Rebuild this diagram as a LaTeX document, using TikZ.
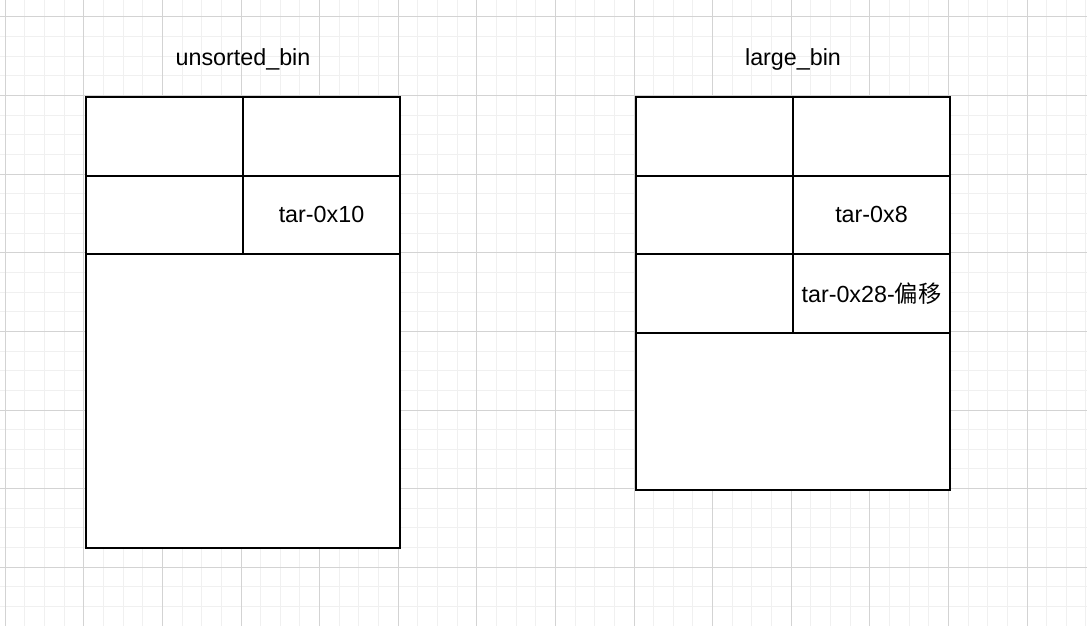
\documentclass[tikz,border=0pt]{standalone}
\usepackage{fontspec}
\setmainfont{Liberation Sans}
\newfontfamily\cjk{Noto Sans CJK SC}
\usepackage{tikz}
\usetikzlibrary{positioning}
\definecolor{gridmajor}{HTML}{D3D3D3}
\definecolor{gridminor}{HTML}{F0F0F0}

\begin{document}
\begin{tikzpicture}[
    x=1pt, y=-1pt,
    % 網格線樣式
    minorline/.style={draw=gridminor, line width=1pt},
    majorline/.style={draw=gridmajor, line width=1pt},
    % --- 定義節點樣式 ---
    % 格子節點樣式
    cell/.style={
        rectangle,
        draw=black,
        line width=2pt,
        fill=white,
        inner sep=0pt,
        outer sep=0pt,
        minimum width=157pt,
        minimum height=78.6pt,
        font=\fontsize{23.3}{28}\selectfont
    },
    % 標題樣式
    title/.style={font=\fontsize{23.3}{28}\selectfont, inner sep=0pt}
]
\useasboundingbox (0,0) rectangle (1087,626);
\fill[white] (0,0) rectangle (1087,626);

% --- 背景網格 ---
\foreach \i in {0,...,55} {
    \draw[minorline] (5.2+19.65*\i,0) -- (5.2+19.65*\i,626);
}
\foreach \j in {0,...,31} {
    \draw[minorline] (0,17+19.65*\j) -- (1087,17+19.65*\j);
}
\foreach \i in {0,...,13} {
    \draw[majorline] (5.2+78.6*\i,0) -- (5.2+78.6*\i,626);
}
\foreach \j in {0,...,7} {
    \draw[majorline] (0,17+78.6*\j) -- (1087,17+78.6*\j);
}

% --- unsorted_bin ---
\node[title] (utitle) at (243,59) {unsorted\_bin};
\node[cell, anchor=north west] (u11) at (86,97) {};
\node[cell, right=0pt of u11] (u12) {};
\node[cell, below=0pt of u11] (u21) {};
\node[cell, right=0pt of u21] (u22) {tar-0x10};
\node[cell, minimum width=314pt, minimum height=294pt,
      anchor=north west] (u3) at (u21.south west) {};

% --- large_bin ---
\node[title] (ltitle) at (793,59) {large\_bin};
\node[cell, anchor=north west] (l11) at (636,97) {};
\node[cell, right=0pt of l11] (l12) {};
\node[cell, below=0pt of l11] (l21) {};
\node[cell, right=0pt of l21] (l22) {tar-0x8};
\node[cell, below=0pt of l21] (l31) {};
\node[cell, right=0pt of l31] (l32) {tar-0x28-{\cjk 偏移}};
\node[cell, minimum width=314pt, minimum height=157pt,
      anchor=north west] (l4) at (l31.south west) {};

\end{tikzpicture}
\end{document}
